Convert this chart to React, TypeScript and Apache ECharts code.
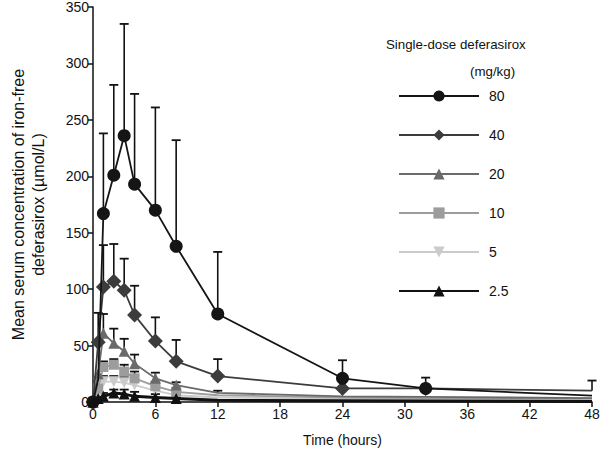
import React, { useEffect, useRef } from "react";
import * as echarts from "echarts";

const times = [0, 0.5, 1, 2, 3, 4, 6, 8, 12, 24, 32, 48];
const doseNames = ["80", "40", "20", "10", "5", "2.5"];

const conc80 = [0, 20, 167, 201, 236, 193, 170, 138, 78, 21, 12, 5.6];
const conc40 = [0, 53, 102, 107, 99, 77, 54, 36, 23, 12, 12, 10];
const conc20 = [0, 25, 61, 52, 45, 34, 21, 15, 8, 5, 4.5, 3.5];
const conc10 = [0, 12, 31, 33, 27, 21, 14, 9, 6, 4, 3.5, 3];
const conc5 = [0, 6, 18, 18, 17, 15, 10, 6, 4, 3, 2.5, 2];
const conc2_5 = [0, 3, 5, 8, 7, 5, 4, 3, 1.5, 1, 0.8, 0.5];

const errTop80 = [null, null, 238, 281, 335, 273, 261, 232, 133, 37, 21.6, null];
const errTop40 = [null, 79, 139, 140, 127, 103, 75, 55, 38, null, null, 19];
const errTop20 = [null, null, 78, 65, 56, 42, 26, 17.5, 10, null, null, null];
const errTop10 = [null, null, 36, 38, 33, 27, 18, 12, null, null, null, null];
const errTop5 = [null, null, 23, 23, 22, 20, 13, null, null, null, null, null];
const errTop2_5 = [null, null, 8, 11, 11, 9, 7, 4, null, null, null, null];

const FONT = "'Liberation Sans', Arial, Helvetica, sans-serif";

export default function App() {
  const ref = useRef<HTMLDivElement>(null);
  useEffect(() => {
    if (!ref.current) return;
    const chart = echarts.init(ref.current, undefined, { renderer: "svg" });

    const concs = [conc80, conc40, conc20, conc10, conc5, conc2_5];
    const errs = [errTop80, errTop40, errTop20, errTop10, errTop5, errTop2_5];
    const colors = ["#151515", "#3c3c3c", "#6a6a6a", "#9c9c9c", "#cbcbcb", "#111111"];
    const symbols = ["circle", "diamond", "triangle", "rect", "path://M0,0 L10,0 L5,10 Z", "triangle"];
    const sizes = [13, 15, 11, 10, 11, 11];
    // time limits after which markers are no longer drawn (style only)
    const lastMarkerTime = [32, 32, 8, 8, 8, 8];

    const lineSeries = concs.map((arr, k) => ({
      type: "line",
      name: doseNames[k],
      z: 3 + (k === 5 ? 6 : 5 - k),
      data: arr.map((v, i) => {
        const t = times[i];
        const hide = t > lastMarkerTime[k] || (k === 0 && t === 0.5);
        return hide ? { value: [t, v], symbol: "none" } : { value: [t, v] };
      }),
      symbol: symbols[k],
      symbolSize: sizes[k],
      showAllSymbol: true,
      lineStyle: { color: colors[k], width: k === 5 ? 3 : 1.8 },
      itemStyle: { color: colors[k], borderWidth: 0 },
      emphasis: { disabled: true },
    }));

    const errSeries = errs.map((arr, k) => ({
      type: "custom",
      name: "err" + doseNames[k],
      z: 2,
      data: times
        .map((t, i) => [t, concs[k][i], arr[i]])
        .filter((d) => d[2] !== null),
      renderItem: (params: any, api: any) => {
        const x = api.value(0);
        const y = api.value(1);
        const top = api.value(2);
        const p0 = api.coord([x, y]);
        const p1 = api.coord([x, top]);
        return {
          type: "group",
          children: [
            {
              type: "line",
              shape: { x1: p0[0], y1: p0[1], x2: p1[0], y2: p1[1] },
              style: { stroke: "#111", lineWidth: 1.6 },
            },
            {
              type: "line",
              shape: { x1: p1[0] - 4.5, y1: p1[1], x2: p1[0] + 4.5, y2: p1[1] },
              style: { stroke: "#111", lineWidth: 1.8 },
            },
          ],
        };
      },
    }));

    chart.setOption({
      animation: false,
      textStyle: { fontFamily: FONT },
      grid: { left: 86, right: 13, top: 7, bottom: 50 },
      xAxis: {
        type: "value",
        min: 0,
        max: 48,
        interval: 6,
        name: "Time (hours)",
        nameLocation: "middle",
        nameGap: 31,
        nameTextStyle: { fontSize: 14, color: "#111", fontFamily: FONT },
        axisLine: { show: true, lineStyle: { color: "#111", width: 1.5 } },
        axisTick: { show: true, length: 5, lineStyle: { color: "#111", width: 1.5 } },
        axisLabel: { fontSize: 14, color: "#111", fontFamily: FONT, margin: 5 },
        splitLine: { show: false },
      },
      yAxis: {
        type: "value",
        min: 0,
        max: 350,
        interval: 50,
        name: "Mean serum concentration of iron-free\ndeferasirox (\u00b5mol/L)",
        nameLocation: "middle",
        nameGap: 45,
        nameTextStyle: { fontSize: 16, color: "#111", fontFamily: FONT, lineHeight: 20 },
        axisLine: { show: true, lineStyle: { color: "#111", width: 1.5 } },
        axisTick: { show: true, length: 5, lineStyle: { color: "#111", width: 1.5 } },
        axisLabel: { fontSize: 14, color: "#111", fontFamily: FONT, margin: 4 },
        splitLine: { show: false },
      },
      legend: {
        data: doseNames,
        orient: "vertical",
        left: 398,
        top: 89,
        padding: 0,
        itemWidth: 80,
        itemHeight: 14,
        itemGap: 25,
        textStyle: { fontSize: 14, color: "#111", fontFamily: FONT, padding: [0, 0, 0, 5] },
        selectedMode: false,
      },
      graphic: [
        {
          type: "text",
          left: 386,
          top: 38,
          style: { text: "Single-dose deferasirox", fontSize: 13.3, fill: "#111", fontFamily: FONT },
        },
        {
          type: "text",
          left: 470,
          top: 65,
          style: { text: "(mg/kg)", fontSize: 13.3, fill: "#111", fontFamily: FONT },
        },
      ],
      series: [...errSeries, ...lineSeries],
    });
    return () => chart.dispose();
  }, []);
  return <div ref={ref} style={{ width: 605, height: 452, position: "absolute", left: 0, top: 0 }} />;
}
